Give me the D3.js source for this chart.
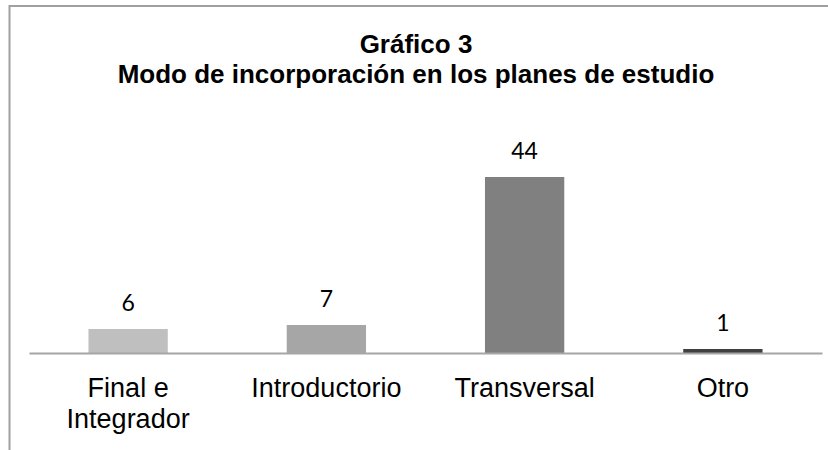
<!DOCTYPE html>
<html lang="es">
<head>
<meta charset="utf-8">
<style>
  body { margin: 0; background: #fff; }
  svg { display: block; }
  .domain { stroke: #a6a6a6; stroke-width: 2; }
</style>
<script src="https://d3js.org/d3.v7.min.js"></script>
</head>
<body>
<svg width="828" height="450"></svg>
<script>
// data
var categories = ["Final e\nIntegrador", "Introductorio", "Transversal", "Otro"];
var values = [6, 7, 44, 1];
var barColors = ["#bfbfbf", "#a6a6a6", "#808080", "#404040"];
var titleLines = ["Gráfico 3", "Modo de incorporación en los planes de estudio"];

var svg = d3.select("svg");

// chart frame (top + left edge only visible)
svg.append("path")
    .attr("d", "M9.5,450V6H828")
    .attr("fill", "none")
    .attr("stroke", "#a0a0a0")
    .attr("stroke-width", 2);

var x = d3.scaleBand()
    .domain(categories)
    .range([29, 822])
    .paddingInner(0.6)
    .paddingOuter(0.3);

var y = d3.scaleLinear()
    .domain([0, 50])
    .range([353, 153]);

// title
svg.append("text")
    .attr("x", 416)
    .attr("y", 53)
    .attr("text-anchor", "middle")
    .style("font-family", "'Liberation Sans', Arial, sans-serif")
    .style("font-weight", "bold")
    .style("font-size", "26px")
    .selectAll("tspan")
    .data(titleLines)
    .enter().append("tspan")
    .attr("x", 416)
    .attr("dy", function(d, i) { return i == 0 ? 0 : 30; })
    .text(function(d) { return d; });

// bars
svg.selectAll(".bar")
    .data(values)
    .enter().append("rect")
    .attr("class", "bar")
    .attr("x", function(d, i) { return x(categories[i]); })
    .attr("y", function(d) { return y(d); })
    .attr("width", x.bandwidth())
    .attr("height", function(d) { return y(0) - y(d); })
    .attr("fill", function(d, i) { return barColors[i]; });

// value labels
svg.selectAll(".val")
    .data(values)
    .enter().append("text")
    .attr("class", "val")
    .attr("x", function(d, i) { return x(categories[i]) + x.bandwidth() / 2; })
    .attr("y", function(d) { return y(d) - 18; })
    .attr("text-anchor", "middle")
    .style("font-family", "Lato, 'Open Sans', sans-serif")
    .style("font-size", "23px")
    .attr("fill", "#000")
    .text(function(d) { return d; });

// x axis
var xAxis = svg.append("g")
    .attr("transform", "translate(0," + y(0) + ")")
    .call(d3.axisBottom(x).tickSize(0).tickPadding(0));

xAxis.selectAll(".tick text").remove();
xAxis.selectAll(".tick").append("text")
    .attr("text-anchor", "middle")
    .attr("fill", "#000")
    .style("font-family", "'Liberation Sans', Arial, sans-serif")
    .style("font-size", "27px")
    .attr("y", 44)
    .each(function(d) {
        var lines = d.split("\n");
        var t = d3.select(this);
        lines.forEach(function(l, i) {
            t.append("tspan").attr("x", 0).attr("dy", i == 0 ? 0 : 31).text(l);
        });
    });
</script>
</body>
</html>
